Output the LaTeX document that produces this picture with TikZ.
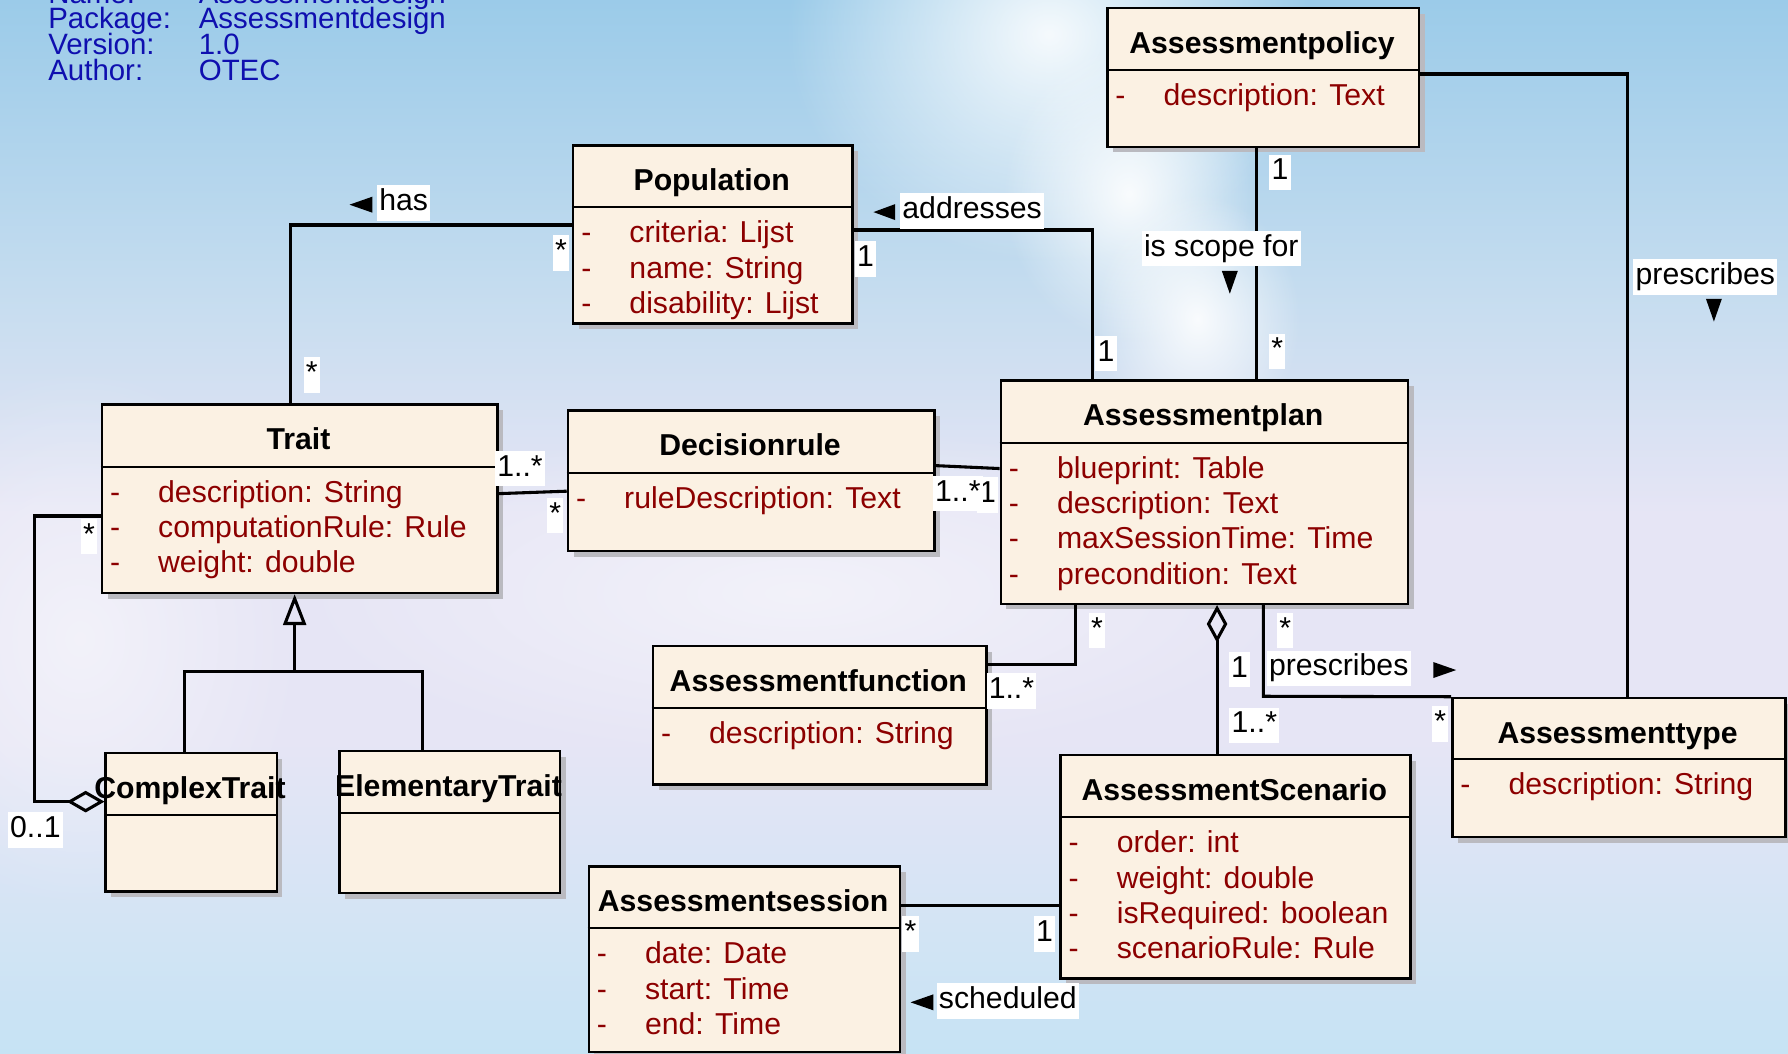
\documentclass[tikz,border=0pt]{standalone}
\usepackage{fontspec}
\setmainfont{Liberation Sans}
\usetikzlibrary{calc,arrows.meta,fadings}

\definecolor{boxfill}{RGB}{251,241,227}
\definecolor{attrred}{RGB}{140,0,0}
\definecolor{hdrblue}{RGB}{15,15,175}
\definecolor{shadowc}{RGB}{186,186,192}
\definecolor{bgA}{RGB}{155,203,233}
\definecolor{bgB}{RGB}{196,220,239}
\definecolor{bgC}{RGB}{230,229,245}
\definecolor{bgD}{RGB}{198,227,244}

\pgfdeclareverticalshading{bgshade}{100bp}{color(0bp)=(bgD); color(25bp)=(bgD); color(39.8bp)=(bgC); color(50.6bp)=(bgC); color(61.5bp)=(bgB); color(75bp)=(bgA); color(100bp)=(bgA)}
\tikzfading[name=glowfade, inner color=transparent!10, outer color=transparent!100]

\newcommand\lblfont{\fontsize{13.25pt}{15.5pt}\selectfont}
\newcommand\ttlfont{\fontsize{13.25pt}{15.5pt}\selectfont\bfseries}
\newcommand\hdrfont{\fontsize{12.9pt}{15pt}\selectfont}

% #1 name, #2 left, #3 top, #4 right, #5 bottom, #6 divider y, #7 title
\newcommand\umlclass[7]{%
  \fill[shadowc] (#2+6,#3+6) rectangle (#4+6,#5+6);
  \node[box, minimum width={(#4-#2)*0.5pt}, minimum height={(#5-#3)*0.5pt}] (#1) at (#2,#3) {};
  \draw[divline] (#2,#6) -- (#4,#6);
  \node[ttl] (#1-title) at ({(#2+#4)/2},#3+40.7) {#7};
}
% #1 name, #2 left, #3 divider y, #4 list
\newcommand\umlattrs[4]{%
  \foreach \a [count=\i] in {#4} {
    \node[dashn] (#1-d\i) at (#2+7.8,{#3+31+(\i-1)*31}) {-};
    \node[attr] (#1-a\i) at (#2+50,{#3+31+(\i-1)*31}) {\a};
  }
}
% glow: centre x, centre y, x radius, y radius
\newcommand\glow[4]{%
  \fill[white, path fading=glowfade] (#1-#3,#2-#4) rectangle (#1+#3,#2+#4);
}

\begin{document}
\begin{tikzpicture}[x=0.5pt,y=-0.5pt,
  box/.style={draw=black, line width=1.1pt, fill=boxfill, inner sep=0pt, anchor=north west},
  divline/.style={line width=0.9pt},
  ttl/.style={font=\ttlfont, anchor=base, inner sep=0pt},
  attr/.style={font=\lblfont, text=attrred, anchor=base west, inner sep=0pt},
  dashn/.style={font=\lblfont, text=attrred, anchor=base west, inner sep=0pt},
  hdr/.style={font=\hdrfont, text=hdrblue, anchor=base west, inner sep=0pt},
  lbl/.style={font=\lblfont, fill=white, inner xsep=1pt, inner ysep=1.5pt, text height=9.6pt, text depth=2.9pt},
  conn/.style={line width=1.35pt, line join=miter},
]
\path[use as bounding box] (0,0) rectangle (1568,924);
\begin{scope}
\clip (0,0) rectangle (1568,924);
\shade[shading=bgshade] (0,0) rectangle (1568,924);
\glow{920}{30}{230}{200}
\glow{990}{170}{110}{130}
\glow{1050}{280}{90}{110}
\begin{scope}[opacity=0.55]
\glow{70}{560}{200}{240}
\glow{700}{520}{450}{150}
\end{scope}

% header block
\node[hdr] (hn1) at (42,3) {Name:};
\node[hdr] (hn2) at (174,3) {Assessmentdesign};
\node[hdr] (hp1) at (42,25.4) {Package:};
\node[hdr] (hp2) at (174,25.4) {Assessmentdesign};
\node[hdr] (hv1) at (42,48.2) {Version:};
\node[hdr] (hv2) at (174,48.2) {1.0};
\node[hdr] (ha1) at (42,70.2) {Author:};
\node[hdr] (ha2) at (174,70.2) {OTEC};

% classes
\umlclass{policy}{970}{6}{1243.5}{127.7}{61.5}{Assessmentpolicy}
\umlattrs{policy}{970}{61.5}{description: Text}
\umlclass{pop}{501.6}{126.3}{746.6}{282.7}{181.8}{Population}
\umlattrs{pop}{501.6}{181.8}{criteria: Lijst,name: String,disability: Lijst}
\umlclass{trait}{88.3}{353.7}{435.3}{518.9}{409.3}{Trait}
\umlattrs{trait}{88.3}{409.3}{description: String,computationRule: Rule,weight: double}
\umlclass{dec}{497}{359}{818.5}{482.3}{414.5}{Decisionrule}
\umlattrs{dec}{497}{414.5}{ruleDescription: Text}
\umlclass{plan}{876.6}{332.7}{1233.7}{528.5}{388.2}{Assessmentplan}
\umlattrs{plan}{876.6}{388.2}{blueprint: Table,description: Text,maxSessionTime: Time,precondition: Text}
\umlclass{func}{571.5}{565.6}{863.8}{687}{621.2}{Assessmentfunction}
\umlattrs{func}{571.5}{621.2}{description: String}
\umlclass{complex}{91.6}{659.2}{241.6}{780.5}{714.7}{ComplexTrait}
\umlclass{elem}{296.7}{657.7}{490}{782}{713.3}{ElementaryTrait}
\umlclass{type}{1272.5}{611}{1564.6}{733}{665.9}{Assessmenttype}
\umlattrs{type}{1272.5}{665.9}{description: String}
\umlclass{scen}{929}{661.2}{1236}{857}{716.8}{AssessmentScenario}
\umlattrs{scen}{929}{716.8}{order: int,weight: double,isRequired: boolean,scenarioRule: Rule}
\umlclass{sess}{515.3}{758.6}{788.1}{921.4}{814.1}{Assessmentsession}
\umlattrs{sess}{515.3}{814.1}{date: Date,start: Time,end: Time}

% connectors
\coordinate (hasB) at (255,197.3);
\draw[conn] (pop.west |- hasB) -- (hasB) -- (hasB |- trait.north);
\coordinate (adB) at (957.9,201.7);
\draw[conn] (pop.east |- adB) -- (adB) -- (adB |- plan.north);
\coordinate (scX) at (1101.9,200);
\draw[conn] (scX |- policy.south) -- (scX |- plan.north);
\coordinate (ppB) at (1427.6,64.9);
\draw[conn] (policy.east |- ppB) -- (ppB) -- (ppB |- type.north);
\draw[conn] ($(trait.east)+(0,-4.5)$) -- ($(dec.west)+(0,9)$);
\draw[conn] ($(dec.east)+(0,-13.4)$) -- ($(plan.west)+(0,-20.8)$);
\coordinate (fpB) at (943,583);
\draw[conn] (func.east |- fpB) -- (fpB) -- (fpB |- plan.south);
\coordinate (agX) at (1067.3,600);
\draw[conn, {Diamond[open,length=16.5pt,width=9pt]}-] (agX |- plan.south) -- (agX |- scen.north);
\coordinate (ptB) at (1107.9,610.6);
\draw[conn] (ptB |- plan.south) -- (ptB) -- (type.north west);
\coordinate (ssB) at (850,794.2);
\draw[conn] (sess.east |- ssB) -- (scen.west |- ssB);
\coordinate (gen) at (258.4,588.5);
\draw[conn, -{Triangle[open,length=13.5pt,width=10pt]}] (gen) -- (gen |- trait.south);
\coordinate (gL) at (161.8,588.5);
\coordinate (gR) at (370.2,588.5);
\draw[conn] (gL |- complex.north) -- (gL) -- (gR) -- (gR |- elem.north);
\coordinate (cA) at (30.2,703);
\coordinate (cB) at (30.2,452.5);
\draw[conn, {Diamond[open,length=16.5pt,width=9.5pt]}-] (complex.west |- cA) -- (cA) -- (cB) -- (trait.west |- cB);

% direction triangles
\fill (306.5,179.5) -- (326.5,172.5) -- (326.5,186.5) -- cycle;
\fill (766,186) -- (785,179) -- (785,193) -- cycle;
\fill (1078.5,257.6) -- (1071.5,237.6) -- (1085.5,237.6) -- cycle;
\fill (1503,282) -- (1496,262) -- (1510,262) -- cycle;
\fill (1277,587.6) -- (1257,580.6) -- (1257,594.6) -- cycle;
\fill (798.5,879) -- (818.5,872) -- (818.5,886) -- cycle;

% labels
\node[lbl] (l1) at (354,178) {has};
\node[lbl] (l2) at (492,222) {*};
\node[lbl] (l3) at (273.5,329) {*};
\node[lbl] (l4) at (852.5,185) {addresses};
\node[lbl] (l5) at (759,227) {1};
\node[lbl] (l6) at (970,310) {1};
\node[lbl] (l7) at (1122.5,151) {1};
\node[lbl] (l8) at (1071,218) {is scope for};
\node[lbl] (l9) at (1120,308) {*};
\node[lbl] (l10) at (1495.5,243) {prescribes};
\node[lbl] (l11) at (456,411) {1..*};
\node[lbl] (l12) at (487,452) {*};
\node[lbl] (l14) at (866,434) {1};
\node[lbl] (l13) at (840,433) {1..*};
\node[lbl] (l15) at (887,606) {1..*};
\node[lbl] (l16) at (962,553) {*};
\node[lbl] (l17) at (1087,587) {1};
\node[lbl] (l18) at (1100,636) {1..*};
\node[lbl] (l19) at (1127,553) {*};
\node[lbl] (l20) at (1174,586) {prescribes};
\node[lbl] (l21) at (1263,635) {*};
\node[lbl] (l22) at (798.5,819) {*};
\node[lbl] (l23) at (916,819) {1};
\node[lbl] (l24) at (883.8,877.7) {scheduled};
\node[lbl] (l25) at (78,470.6) {*};
\node[lbl] (l26) at (31,728) {0..1};
\end{scope}
\end{tikzpicture}
\end{document}
